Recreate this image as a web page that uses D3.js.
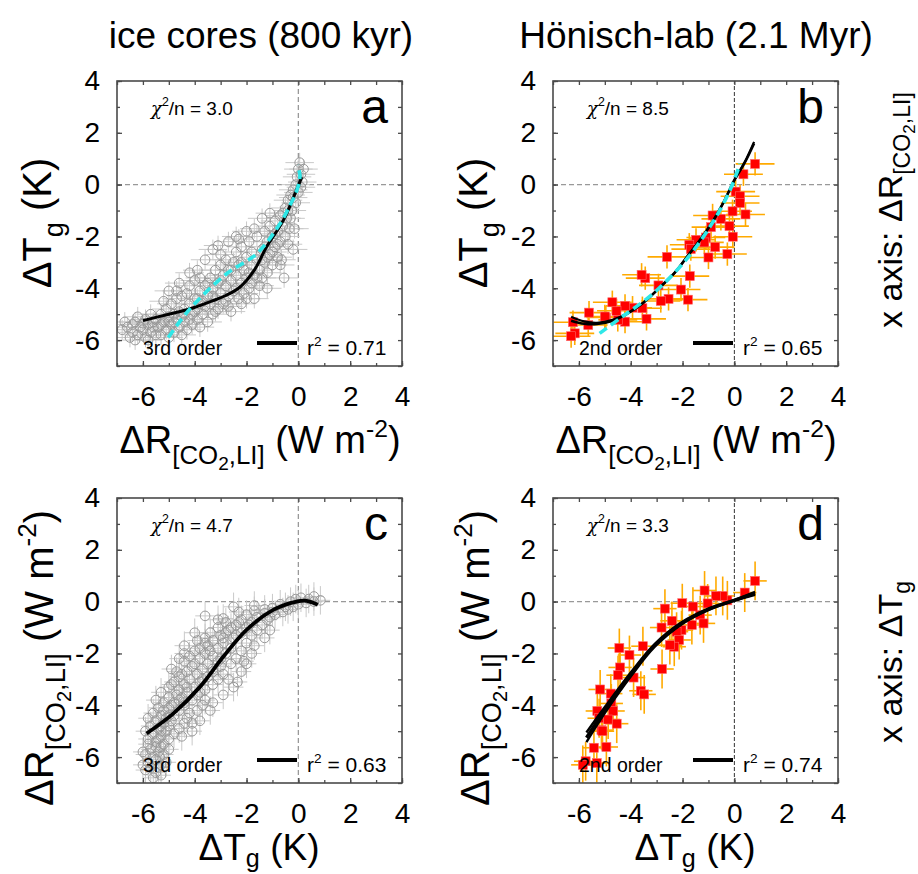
<!DOCTYPE html>
<html><head><meta charset="utf-8">
<script src="https://cdn.jsdelivr.net/npm/d3@7"></script>
<style>body{margin:0;background:#fff}svg{display:block}text{font-family:"Liberation Sans",Arial,Helvetica,sans-serif;fill:#000}</style>
</head><body>
<svg id="c" width="918" height="874"></svg>
<script>
// ---------------- data ----------------
const tickLabels = [-6, -4, -2, 0, 2, 4];
const minorTicks = [-7, -6, -5, -4, -3, -2, -1, 0, 1, 2, 3, 4];
const columnTitles = ["ice cores (800 kyr)", "Hönisch-lab (2.1 Myr)"];
const panelLetters = ["a", "b", "c", "d"];
const chiValues = ["3.0", "8.5", "4.7", "3.3"];
const r2Values = ["0.71", "0.65", "0.63", "0.74"];
const orderLabels = ["3rd order", "2nd order", "3rd order", "2nd order"];

// ice cores: radiative forcing (R) and temperature (T)
const iceR = [-6.6,-6.4,-6.3,-6.2,-6.1,-6.0,-5.9,-5.9,-5.8,-5.7,-5.7,-5.6,-5.5,-5.5,-6.5,-6.2,-5.8,-6.0,
 -5.4,-5.3,-5.3,-5.2,-5.1,-5.1,-5.0,-4.9,-4.9,-4.8,-4.8,-4.7,-4.7,-4.6,-4.6,-4.5,-4.5,-5.2,-5.0,-4.7,
 -4.4,-4.4,-4.3,-4.3,-4.2,-4.2,-4.1,-4.1,-4.0,-4.0,-3.9,-3.9,-3.8,-3.8,-3.7,-3.7,-3.6,-3.6,-3.5,-3.5,-3.9,
 -3.4,-3.4,-3.3,-3.3,-3.2,-3.2,-3.1,-3.1,-3.0,-3.0,-2.9,-2.9,-2.8,-2.8,-2.7,-2.7,-2.6,-2.6,-2.5,-2.5,-3.0,
 -2.4,-2.4,-2.3,-2.3,-2.2,-2.2,-2.1,-2.1,-2.0,-2.0,-1.9,-1.9,-1.8,-1.8,-1.7,-1.7,-1.6,-1.6,-1.5,-1.5,-2.3,
 -1.4,-1.4,-1.3,-1.3,-1.2,-1.2,-1.1,-1.1,-1.0,-1.0,-0.9,-0.9,-0.8,-0.8,-1.2,
 -0.7,-0.7,-0.65,-0.6,-0.55,-0.5,-0.5,-0.45,-0.4,-0.35,-0.3,
 -0.25,-0.2,-0.2,-0.15,-0.1,-0.1,-0.05,0.0,0.0,0.05,0.1,0.15,0.2,0.1,
 -3.3,-3.1,-2.7,-2.4,-2.0,-1.7,-1.4,-1.1,-4.2,-4.6,-5.0,-3.6,
 -4.0,-3.8,-3.5,-3.3,-3.0,-2.8,-2.6,-2.4,-2.2,-2.0,-1.8,-1.6,-1.4,-1.3,-1.0,-0.9,-0.8,-0.6,-0.4,-0.3,-0.2,
 -5.6,-5.3,-5.0,-4.8,-4.4,-4.2,-3.9,-6.8,-6.7,-6.4,-6.3,-4.5,-3.8,-3.2,-2.7,-2.2,-1.9,-1.2,-0.7,-0.4];
const iceT = [-5.5,-5.7,-5.3,-5.8,-5.5,-5.6,-5.2,-5.9,-5.4,-5.7,-5.0,-5.5,-5.8,-5.2,-5.9,-5.1,-6.0,-5.35,
 -5.5,-5.0,-5.8,-5.3,-4.8,-5.6,-5.1,-5.4,-4.6,-5.0,-5.7,-4.4,-5.2,-4.9,-5.5,-4.3,-5.1,-4.5,-5.9,-4.1,
 -4.8,-5.3,-4.2,-5.6,-4.6,-3.9,-5.0,-5.4,-4.4,-3.7,-4.8,-5.2,-4.1,-3.6,-4.5,-5.0,-3.9,-4.7,-4.3,-5.3,-3.3,
 -3.6,-4.6,-4.0,-5.0,-3.3,-4.4,-3.8,-4.8,-3.1,-4.2,-3.5,-4.6,-3.9,-2.9,-4.3,-3.3,-3.7,-4.9,-3.0,-4.1,-2.7,
 -3.5,-2.6,-4.4,-3.1,-3.8,-2.4,-3.3,-4.2,-2.8,-3.6,-2.2,-4.0,-3.1,-2.6,-3.5,-4.4,-2.9,-2.0,-3.3,-3.9,-2.1,
 -2.5,-3.6,-1.8,-3.0,-2.2,-3.4,-2.7,-1.6,-3.1,-2.0,-2.4,-1.4,-2.8,-1.8,-4.0,
 -2.2,-1.2,-2.9,-1.6,-3.6,-0.9,-2.0,-1.3,-0.6,-1.7,-0.4,
 -1.0,-2.5,-0.2,-1.7,0.0,-0.7,0.3,0.6,-0.3,0.85,0.4,0.1,0.6,-0.1,
 -2.5,-2.35,-2.2,-2.0,-1.8,-1.7,-1.3,-1.1,-3.4,-3.8,-4.1,-2.9,
 -4.9,-4.6,-3.8,-4.3,-3.7,-4.5,-3.3,-4.0,-3.0,-4.4,-3.8,-3.6,-2.9,-2.4,-2.6,-1.9,-2.3,-1.1,-1.0,-1.3,-0.5,
 -5.3,-5.4,-5.3,-5.3,-5.0,-5.2,-4.4,-5.6,-5.3,-5.4,-6.0,-5.8,-5.5,-4.9,-4.7,-4.6,-3.4,-2.8,-3.1,-2.3];
const iceErrR = 0.55, iceErrT = 0.38;

// Hönisch-lab boron record
const honR = [0.8,0.35,0.05,0.22,0.22,0.43,-0.07,-0.52,-0.84,-0.19,-0.9,-0.06,-1.1,-0.27,-0.74,-1.0,-1.16,-1.48,
 -1.74,-1.68,-2.6,-1.72,-2.06,-1.79,-2.54,-2.84,-2.93,-3.44,-3.58,-3.39,-3.55,-3.93,-4.22,-4.22,-4.55,-4.71,
 -4.96,-5.64,-5.61,-6.16,-6.23,-4.5,-5.0,-6.3];
const honT = [0.8,0.4,-0.27,-0.45,-0.71,-1.15,-1.03,-1.32,-1.19,-1.6,-1.64,-2.01,-2.04,-2.68,-2.41,-2.81,-2.23,-2.13,
 -2.32,-2.49,-2.79,-3.53,-4.05,-4.44,-4.41,-4.49,-3.89,-3.61,-3.48,-5.18,-4.77,-4.75,-5.29,-4.68,-4.87,-4.54,
 -5.13,-5.42,-4.94,-5.74,-5.31,-5.22,-5.09,-5.85];
const honErrR = 0.75, honErrT = 0.45;

// fitted curves
const fitA_R = [-6.0,-5.0,-4.2,-3.3,-2.8,-2.26,-1.7,-1.23,-0.58,-0.13,0.13];
const fitA_T = [-5.25,-5.0,-4.8,-4.48,-4.28,-3.96,-3.3,-2.41,-1.38,-0.35,0.29];
const cyanA_R = [-5.02,-4.19,-2.77,-1.61,-0.71,-0.3,-0.05,0.06,-0.03];
const cyanA_T = [-5.9,-4.8,-3.44,-2.67,-1.51,-0.75,-0.2,0.35,0.75];
const fitB_R = [-6.3,-5.8,-5.3,-4.7,-4.16,-3.5,-2.87,-2.3,-1.84,-1.3,-0.81,-0.4,0.0,0.4,0.76];
const fitB_T = [-5.25,-5.37,-5.38,-5.25,-5.0,-4.55,-3.96,-3.4,-2.8,-2.1,-1.38,-0.65,0.17,0.85,1.59];
const fitB2_T = [-5.1,-5.28,-5.33,-5.22,-4.98,-4.54,-3.96,-3.4,-2.8,-2.1,-1.38,-0.65,0.17,0.87,1.65];
const cyanB_R = [-5.2,-4.36,-3.07,-1.78,-0.87,-0.23,0.13,0.22];
const cyanB_T = [-5.74,-5.12,-4.15,-2.8,-1.51,-0.35,0.55,0.81];
const fitC_T = [-5.86,-4.83,-3.8,-2.9,-2.0,-0.97,-0.07,0.32,0.75];
const fitC_R = [-5.09,-4.32,-3.29,-2.13,-1.09,-0.32,0.0,0.03,-0.12];
const fitD_T = [-5.71,-5.0,-3.97,-3.07,-2.04,-1.01,0.0,0.8];
const fitD_R = [-5.25,-4.19,-2.77,-1.68,-0.84,-0.3,0.05,0.32];
const fitDup_R = [-5.05,-4.07,-2.70,-1.63,-0.80,-0.27,0.07,0.38];
const fitDlo_R = [-5.42,-4.30,-2.85,-1.74,-0.88,-0.33,0.03,0.26];

// ---------------- drawing ----------------
const svg = d3.select("#c");
const FS = {tick: 28, axisH: 38, axisV: 40, bottom: 37, title: 37, note: 19, letter: 48, side: 34};

function rich(t, parts, fs) {
  let off = 0;
  parts.forEach(p => {
    const sz = fs * (p.size || 1);
    const sh = fs * (p.shift || 0);
    const ts = t.append("tspan").text(p.t).attr("font-size", sz);
    if (p.style) ts.attr("font-style", p.style);
    if (p.family) ts.attr("font-family", p.family);
    if (sh !== off) { ts.attr("dy", sh - off); off = sh; }
  });
  return t;
}
const labR = [{t:"ΔR"},{t:"[CO",size:.68,shift:.3},{t:"2",size:.5,shift:.45},{t:",LI]",size:.68,shift:.3}];
const labRunits = labR.concat([{t:" (W m"},{t:"-2",size:.65,shift:-.42},{t:")"}]);
const labT = [{t:"ΔT"},{t:"g",size:.68,shift:.3},{t:" (K)"}];
const labTbottom = [{t:"ΔT"},{t:"g",size:.68,shift:.2},{t:" (K)"}];

const panels = [
  {x0:117, y0:81, kind:"ice", xs:iceR, ys:iceT, ex:iceErrR, ey:iceErrT, vcol:"#999"},
  {x0:553, y0:81, kind:"hon", xs:honR, ys:honT, ex:honErrR, ey:honErrT, vcol:"#333"},
  {x0:117, y0:498, kind:"ice", xs:iceT, ys:iceR, ex:iceErrT, ey:iceErrR, vcol:"#999"},
  {x0:553, y0:498, kind:"hon", xs:honT, ys:honR, ex:honErrT, ey:honErrR, vcol:"#333"}
];
const PW = 285, PH = 285;

panels.forEach((p, i) => {
  const x = d3.scaleLinear().domain([-7, 4]).range([p.x0, p.x0 + PW]);
  const y = d3.scaleLinear().domain([-7, 4]).range([p.y0 + PH, p.y0]);
  const g = svg.append("g");
  const cid = "clip" + i;
  svg.append("clipPath").attr("id", cid).append("rect")
    .attr("x", p.x0).attr("y", p.y0).attr("width", PW).attr("height", PH);
  const plot = g.append("g").attr("clip-path", `url(#${cid})`);

  // zero lines
  plot.append("line").attr("x1", x(-7)).attr("x2", x(4)).attr("y1", y(0)).attr("y2", y(0))
    .attr("stroke", "#999").attr("stroke-width", 1.3).attr("stroke-dasharray", "5,3");
  plot.append("line").attr("x1", x(0)).attr("x2", x(0)).attr("y1", y(-7)).attr("y2", y(4))
    .attr("stroke", p.vcol).attr("stroke-width", p.kind === "ice" ? 1.3 : 1).attr("stroke-dasharray", p.kind === "ice" ? "5,3" : "4,2");

  const idx = d3.range(p.xs.length);
  const ecol = p.kind === "ice" ? "#c9c9c9" : "#ffaa00";
  const ew = p.kind === "ice" ? 1 : 1.6;
  const eg = plot.append("g").attr("stroke", ecol).attr("stroke-width", ew);
  eg.selectAll(".h").data(idx).join("line")
    .attr("x1", k => x(p.xs[k] - p.ex)).attr("x2", k => x(p.xs[k] + p.ex))
    .attr("y1", k => y(p.ys[k])).attr("y2", k => y(p.ys[k]));
  eg.selectAll(".v").data(idx).join("line")
    .attr("x1", k => x(p.xs[k])).attr("x2", k => x(p.xs[k]))
    .attr("y1", k => y(p.ys[k] - p.ey)).attr("y2", k => y(p.ys[k] + p.ey));
  if (p.kind === "ice") {
    plot.append("g").selectAll("circle").data(idx).join("circle")
      .attr("cx", k => x(p.xs[k])).attr("cy", k => y(p.ys[k])).attr("r", 4.8)
      .attr("fill", "none").attr("stroke", "#999").attr("stroke-width", 1);
  } else {
    plot.append("g").selectAll("rect").data(idx).join("rect")
      .attr("x", k => x(p.xs[k]) - 4.5).attr("y", k => y(p.ys[k]) - 4.5)
      .attr("width", 9).attr("height", 9).attr("fill", "#ff0000")
      .attr("stroke", "#ff6a6a").attr("stroke-width", 0.6);
  }

  const line = (xs, ys) => d3.line().curve(d3.curveCatmullRom.alpha(0.5))
    .x((d, k) => x(xs[k])).y((d, k) => y(ys[k]))(xs);
  const black = (xs, ys, w) => plot.append("path").attr("d", line(xs, ys)).attr("fill", "none")
    .attr("stroke", "#000").attr("stroke-width", w).attr("stroke-linecap", "butt");
  const cyan = (xs, ys) => plot.append("path").attr("d", line(xs, ys)).attr("fill", "none")
    .attr("stroke", "#2ee8e8").attr("stroke-width", 3.6).attr("stroke-dasharray", "9,5");
  if (i === 0) { black(fitA_R, fitA_T, 3); cyan(cyanA_R, cyanA_T); }
  if (i === 1) { black(fitB_R, fitB_T, 2.6); black(fitB_R, fitB2_T, 2.2); cyan(cyanB_R, cyanB_T); }
  if (i === 2) { black(fitC_T, fitC_R, 3.8); }
  if (i === 3) { black(fitD_T, fitDup_R, 2.4); black(fitD_T, fitDlo_R, 2.4); black(fitD_T, fitD_R, 3.2); }

  // frame
  g.append("rect").attr("x", p.x0).attr("y", p.y0).attr("width", PW).attr("height", PH)
    .attr("fill", "none").attr("stroke", "#4a4a4a").attr("stroke-width", 1.6);

  // axes (ticks inward)
  const mk = (axis, tr) => g.append("g").attr("transform", tr).call(axis)
    .call(s => s.select(".domain").remove())
    .call(s => s.selectAll("line").attr("stroke", "#4a4a4a").attr("stroke-width", 1.3));
  const fmt = d => String(d);
  const ax1 = mk(d3.axisLeft(y).tickValues(tickLabels).tickFormat(fmt).tickSize(-5).tickPadding(17), `translate(${p.x0},0)`);
  mk(d3.axisLeft(y).tickValues(minorTicks).tickFormat("").tickSize(-3), `translate(${p.x0},0)`);
  mk(d3.axisRight(y).tickValues(minorTicks).tickFormat("").tickSize(-4), `translate(${p.x0 + PW},0)`);
  const ax2 = mk(d3.axisBottom(x).tickValues(tickLabels).tickFormat(fmt).tickSize(-5).tickPadding(20), `translate(0,${p.y0 + PH})`);
  mk(d3.axisBottom(x).tickValues(minorTicks).tickFormat("").tickSize(-3), `translate(0,${p.y0 + PH})`);
  mk(d3.axisTop(x).tickValues(minorTicks).tickFormat("").tickSize(-4), `translate(0,${p.y0})`);
  [ax1, ax2].forEach(a => a.selectAll("text").attr("font-size", FS.tick)
    .attr("font-family", '"Liberation Sans",Arial,sans-serif').attr("fill", "#000"));

  // annotations
  const chi = g.append("text").attr("x", p.x0 + 34).attr("y", p.y0 + 34);
  rich(chi, [{t:"χ", family:'"DejaVu Serif",serif', style:"italic", size:.95},{t:"2",size:.65,shift:-.45},{t:"/n = " + chiValues[i]}], FS.note);
  g.append("text").attr("x", p.x0 + PW - 14).attr("y", p.y0 + 42).attr("text-anchor", "end")
    .attr("font-size", FS.letter).text(panelLetters[i]);
  g.append("text").attr("x", p.x0 + 26).attr("y", p.y0 + PH - 11).attr("font-size", FS.note + 0.5)
    .text(orderLabels[i]);
  g.append("line").attr("x1", p.x0 + 140).attr("x2", p.x0 + 180)
    .attr("y1", p.y0 + PH - 23).attr("y2", p.y0 + PH - 23).attr("stroke", "#000").attr("stroke-width", 4);
  const r2 = g.append("text").attr("x", p.x0 + 190).attr("y", p.y0 + PH - 11);
  rich(r2, [{t:"r"},{t:"2",size:.65,shift:-.45},{t:" = " + r2Values[i]}], FS.note + 2);
});

// column titles
svg.append("text").attr("x", 261).attr("y", 48).attr("text-anchor", "middle").attr("font-size", FS.title).text(columnTitles[0]);
svg.append("text").attr("x", 696).attr("y", 48).attr("text-anchor", "middle").attr("font-size", FS.title).text(columnTitles[1]);

// axis titles
rich(svg.append("text").attr("text-anchor", "middle").attr("transform", "translate(51,223) rotate(-90)"), labT, FS.axisV);
rich(svg.append("text").attr("text-anchor", "middle").attr("transform", "translate(487,223) rotate(-90)"), labT, FS.axisV);
rich(svg.append("text").attr("text-anchor", "middle").attr("transform", "translate(53,658) rotate(-90)"), labRunits, FS.axisV);
rich(svg.append("text").attr("text-anchor", "middle").attr("transform", "translate(489,658) rotate(-90)"), labRunits, FS.axisV);
rich(svg.append("text").attr("text-anchor", "middle").attr("x", 260).attr("y", 453), labRunits, FS.axisH);
rich(svg.append("text").attr("text-anchor", "middle").attr("x", 696).attr("y", 453), labRunits, FS.axisH);
rich(svg.append("text").attr("text-anchor", "middle").attr("x", 259).attr("y", 860), labTbottom, FS.bottom);
rich(svg.append("text").attr("text-anchor", "middle").attr("x", 695).attr("y", 860), labTbottom, FS.bottom);

// row labels on the right
const labRside = [{t:"x axis: ΔR"},{t:"[CO",size:.68,shift:.24},{t:"2",size:.5,shift:.38},{t:",LI]",size:.68,shift:.24}];
rich(svg.append("text").attr("text-anchor", "middle").attr("transform", "translate(902,210) rotate(-90)"), labRside, FS.side);
rich(svg.append("text").attr("text-anchor", "middle").attr("transform", "translate(902,662) rotate(-90)"),
  [{t:"x axis: ΔT"},{t:"g",size:.68,shift:.24}], FS.side);
</script>
</body></html>
